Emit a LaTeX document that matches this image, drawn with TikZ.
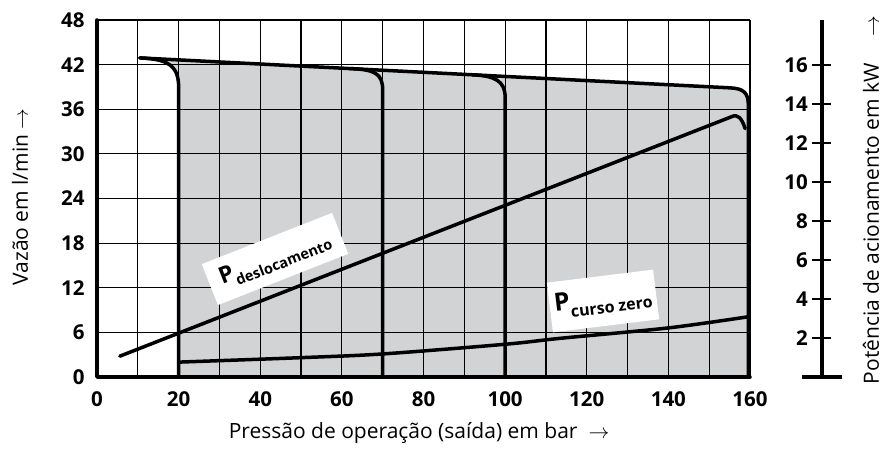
\documentclass[tikz,border=0pt]{standalone}
\usepackage{fontspec}
\setmainfont{Open Sans}
\definecolor{areagray}{RGB}{209,211,212}
\begin{document}
\begin{tikzpicture}[x=1pt,y=1pt,
		thickline/.style={line width=3.5pt,line cap=round,line join=round},
		gridline/.style={line width=1.2pt},
		num/.style={font=\fontsize{20.5}{20.5}\selectfont\bfseries,inner sep=0pt},
		axistitle/.style={font=\fontsize{21}{21}\selectfont,inner sep=0pt},
		labelbox/.style={fill=white,inner sep=3pt,align=left}]
	\useasboundingbox (0,0) rectangle (886,452);
	\begin{scope}[shift={(97pt,75pt)},x=4.08125pt,y=7.4375pt]
		% gray area
		\fill[areagray] (10.5,42.9) -- (155,38.88) .. controls (158.5,38.8) and (159.6,38.2) .. (159.6,36.5)
			-- (159.6,0) -- (20,0) -- (20,39) .. controls (20,42) and (17,42.75) .. (10.5,42.9) -- cycle;
		% grid
		\foreach \x in {10,20,...,160}
			\draw[gridline] (\x,0) -- (\x,48);
		\foreach \y in {6,12,...,48}
			\draw[gridline] (0,\y) -- (160,\y);
		\coordinate (o) at (0,0);
		\coordinate (ytop) at (0,48);
		\coordinate (xend) at (160,0);
		\draw[thickline] (ytop) -- (o) -- (xend);
		% numbers
		\foreach \y in {0,6,...,48}
			\node[num,anchor=east] (f\y) at (-3,\y) {\y};
		\foreach \x in {0,20,...,160}
			\node[num,anchor=north] (p\x) at (\x,-2) {\x};
		% flow curves
		\draw[thickline] (10.5,42.9) -- (155,38.88) .. controls (158.5,38.8) and (159.6,38.2) .. (159.6,36.5) -- (159.6,0);
		\draw[thickline] (10.5,42.9) .. controls (17,42.75) and (20,42) .. (20,39) -- (20,0);
		\draw[thickline] (62,41.47) .. controls (68,41.35) and (70,40.8) .. (70,38.6) -- (70,0);
		\draw[thickline] (92,40.63) .. controls (97.5,40.5) and (100,39.8) .. (100,37.6) -- (100,0);
		% power curves
		\draw[thickline] (5.6,2.8) -- (155.5,35.0) .. controls (157,35.4) and (158,34.8) .. (158.8,33.4);
		\draw[thickline] plot[smooth] coordinates {(20,2.0) (50,2.6) (70,3.1) (100,4.4) (113.5,5.2) (140,6.6) (159.6,8.1)};
	\end{scope}
	% power axis
	\coordinate (kwtop) at (822,432);
	\coordinate (kwbot) at (822,75);
	\draw[thickline,line cap=butt] (kwtop) -- (kwbot);
	\draw[thickline,line cap=butt] (802,75) -- (842,75);
	\foreach \k in {2,4,...,16} {
		\draw[line width=1.4pt] (812,75+19.5*\k) -- (831,75+19.5*\k);
		\node[num,anchor=east] (k\k) at (808,75+19.5*\k) {\k};
	}
	% labels
	\node[labelbox,rotate=21.5,minimum width=140pt,minimum height=44pt] (pdesl) at (275,193)
		{{\fontsize{23}{23}\selectfont\bfseries P}{\fontsize{14.5}{14.5}\selectfont\bfseries\raisebox{-7pt}{deslocamento}}};
	\node[labelbox,rotate=7,minimum width=107pt,minimum height=50pt] (pzero) at (603,151)
		{{\fontsize{25}{25}\selectfont\bfseries P}{\fontsize{16}{16}\selectfont\bfseries\raisebox{-8pt}{curso zero}}};
	% axis titles
	\node[axistitle,rotate=90] (ytitle) at (20,255) {Vazão em l/min $\rightarrow$};
	\node[axistitle] (xtitle) at (419,19) {Pressão de operação (saída) em bar \ $\rightarrow$};
	\node[axistitle,rotate=90] (kwtitle) at (871,252) {Potência de acionamento em kW \quad $\rightarrow$};
\end{tikzpicture}
\end{document}
